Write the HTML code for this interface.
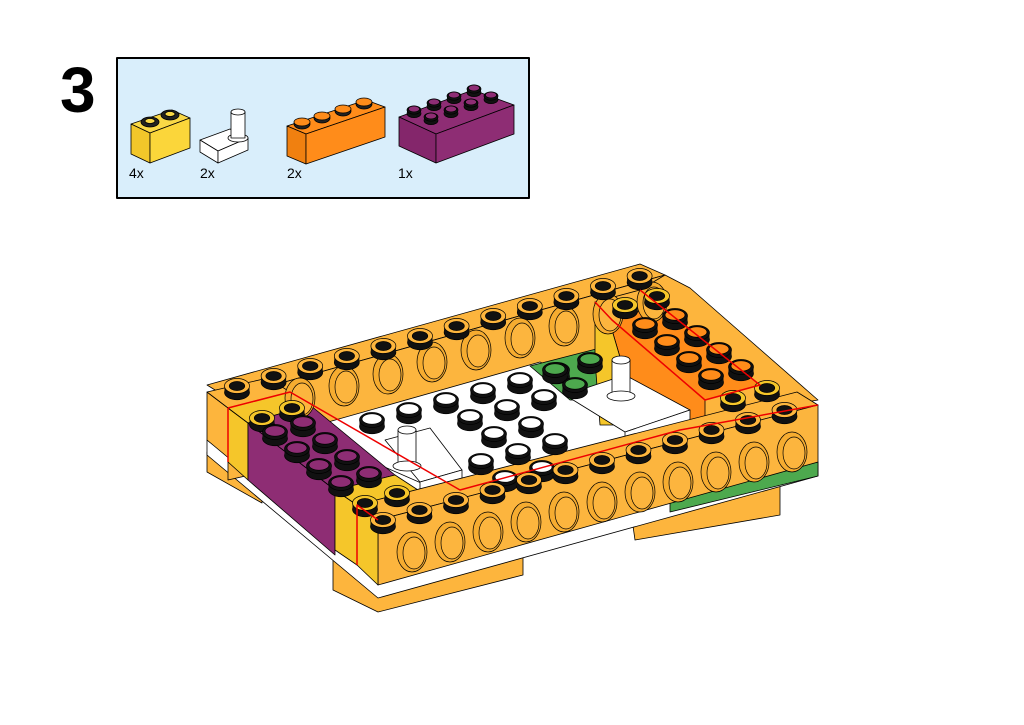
<!DOCTYPE html>
<html><head><meta charset="utf-8"><style>
body{margin:0;background:#fff;width:1024px;height:725px;overflow:hidden}
svg{display:block}
text{font-family:"Liberation Sans",sans-serif}
</style></head><body>
<svg id="s" width="1024" height="725" viewBox="0 0 1024 725" xmlns="http://www.w3.org/2000/svg" stroke-linejoin="round">
<text x="60" y="112" font-size="64" font-weight="bold">3</text>
<rect x="117" y="58" width="412" height="140" fill="#d9eefb" stroke="#000" stroke-width="2"/>
<g stroke="#000" stroke-width="0.8">
<polygon points="131,124 172,110 190,118 150,133" fill="#f9d846"/>
<polygon points="131,124 150,133 150,163 131,154" fill="#f2c72a"/>
<polygon points="150,133 190,118 190,148 150,163" fill="#fbd63a"/>
<ellipse cx="150" cy="122" rx="9" ry="5" fill="#222"/><ellipse cx="150" cy="121" rx="5" ry="2.5" fill="#f9d846"/>
<ellipse cx="170" cy="115" rx="9" ry="5" fill="#222"/><ellipse cx="170" cy="114" rx="5" ry="2.5" fill="#f9d846"/>
<polygon points="200,140 230,129 248,138 218,151" fill="#fff"/>
<polygon points="200,140 218,151 218,163 200,152" fill="#fff"/>
<polygon points="218,151 248,138 248,150 218,163" fill="#fff"/>
<ellipse cx="238" cy="138" rx="10" ry="4" fill="#fff"/><rect x="231" y="112" width="14" height="26" fill="#fff"/><ellipse cx="238" cy="112" rx="7" ry="3" fill="#fff"/>
<polygon points="287,126 366,100 385,107 306,134" fill="#ff8c1a"/>
<polygon points="287,126 306,134 306,164 287,156" fill="#f08010"/>
<polygon points="306,134 385,107 385,137 306,164" fill="#ff8c1a"/>
<ellipse cx="302" cy="124" rx="8" ry="5" fill="#222"/><ellipse cx="322" cy="118" rx="8" ry="5" fill="#222"/><ellipse cx="343" cy="111" rx="8" ry="5" fill="#222"/><ellipse cx="364" cy="104" rx="8" ry="5" fill="#222"/>
<ellipse cx="302" cy="122" rx="8" ry="4" fill="#ff8c1a"/><ellipse cx="322" cy="116" rx="8" ry="4" fill="#ff8c1a"/><ellipse cx="343" cy="109" rx="8" ry="4" fill="#ff8c1a"/><ellipse cx="364" cy="102" rx="8" ry="4" fill="#ff8c1a"/>
<polygon points="399,117 473,90 514,105 436,134" fill="#8e2d74"/>
<polygon points="399,117 436,134 436,163 399,146" fill="#84266b"/>
<polygon points="436,134 514,105 514,134 436,163" fill="#8e2d74"/>
</g>
<g id="pp"></g>
<g fill="#000" font-size="14"><text x="129" y="178">4x</text><text x="200" y="178">2x</text><text x="287" y="178">2x</text><text x="398" y="178">1x</text></g>

<g id="m" stroke="#000" stroke-width="0.8">
<polygon points="207,452 262,490 262,503 207,472" fill="#fdb53d"/>
<polygon points="333,560 523,540 523,575 378,612 333,590" fill="#fdb53d"/>
<polygon points="630,505 780,470 780,515 635,540" fill="#fdb53d"/>
<polygon points="207,440 378,572 670,500 818,462 818,476 378,598 207,455" fill="#fff"/>
<polygon points="670,500 818,462 818,476 670,512" fill="#4da94e"/>
<polygon points="207,385 640,264 665,275 228,398" fill="#fdb53d"/>
<polygon points="228,398 665,275 665,380 228,480" fill="#fcb53e"/>
<polygon points="300,430 540,362 700,440 460,500" fill="#fff"/>
<polygon points="530,366 600,348 620,400 570,400" fill="#4da94e"/>
<polygon points="207,392 357,505 357,565 207,440" fill="#fdb53d"/>
<polygon points="228,408 248,423 248,480 228,462" fill="#f5c62a"/>
<polygon points="248,423 335,490 335,555 248,480" fill="#8e2d74"/>
<polygon points="335,490 357,505 357,565 335,550" fill="#f5c62a"/>
<polygon points="207,392 228,408 290,392 268,378" fill="#fdb53d"/>
<polygon points="228,408 248,423 310,405 290,392" fill="#f5c62a"/>
<polygon points="248,423 335,490 395,475 310,405" fill="#8e2d74"/>
<polygon points="335,490 357,505 418,490 395,475" fill="#f5c62a"/>
<polygon points="385,440 430,428 462,470 420,482" fill="#fff"/>
<polygon points="420,482 462,470 462,487 420,500" fill="#fff"/>
<polygon points="595,302 640,290 665,275 690,288 818,400 760,410 700,420 610,330" fill="#fdb53d"/>
<polygon points="612,320 660,305 760,385 705,400" fill="#ff8c1a"/>
<polygon points="612,320 705,400 705,420 640,425 612,330" fill="#ff8c1a"/>
<polygon points="595,302 612,320 612,330 640,425 600,425 595,360" fill="#f5c62a"/>
<polygon points="565,395 625,375 690,410 625,432" fill="#fff"/>
<polygon points="625,432 690,410 690,430 625,450" fill="#fff"/>
<polygon points="357,505 797,392 818,405 378,520" fill="#fdb53d"/>
<polygon points="378,520 818,405 818,462 378,585" fill="#fcb53e"/>
<polygon points="357,505 378,520 378,585 357,565" fill="#f5c62a"/>
<g fill="#fff"><rect x="398" y="430" width="18" height="36"/><ellipse cx="407" cy="466" rx="14" ry="5"/><ellipse cx="407" cy="430" rx="9" ry="4"/>
<rect x="612" y="360" width="18" height="36"/><ellipse cx="621" cy="396" rx="14" ry="5"/><ellipse cx="621" cy="360" rx="9" ry="4"/></g>
</g>
<g id="st"></g>
<g fill="none" stroke="#e00" stroke-width="1.5">
<polyline points="228,408 228,462"/><polyline points="357,565 357,505 378,520"/>
<polyline points="228,408 290,392 460,490 680,430 818,405"/>
<polyline points="595,302 612,320 705,400 760,385 640,290"/>
</g>
</svg>
<script>
var N='http://www.w3.org/2000/svg',g,i,j;
function el(t,a){var e=document.createElementNS(N,t);for(var k in a)e.setAttribute(k,a[k]);if(!a.stroke)e.setAttribute('stroke','#000');e.setAttribute('stroke-width','0.7');g.appendChild(e);return e;}
function stud(x,y,c,hollow,r){r=r||12.5;var ry=r*0.6,h=r*0.5;el('ellipse',{cx:x,cy:y+h,rx:r,ry:ry,fill:'#111'});el('rect',{x:x-r,y:y,width:2*r,height:h,fill:'#111',stroke:'none'});
el('ellipse',{cx:x,cy:y,rx:r,ry:ry,fill:hollow?c:'#111'});if(hollow)el('ellipse',{cx:x,cy:y,rx:r*0.62,ry:ry*0.6,fill:'#111'});else el('ellipse',{cx:x,cy:y-1,rx:r*0.8,ry:ry*0.7,fill:c});}
function hole(x,y){el('ellipse',{cx:x,cy:y,rx:15,ry:20,fill:'#f6ac30'});el('ellipse',{cx:x+2,cy:y+1,rx:11,ry:16,fill:'#fcb53e'});}
g=document.getElementById('pp');
for(i=0;i<4;i++)for(j=0;j<2;j++)stud(414+i*20+j*17,110-i*7+j*7,'#8e2d74',false,7);
g=document.getElementById('st');
for(i=0;i<9;i++)hole(300+i*44,398-i*12);
for(i=0;i<11;i++)hole(412+i*38,552-i*10);
for(i=0;i<6;i++)for(j=0;j<5;j++){var x=372+i*37+j*24,y=420-i*10+j*17;if(x<565&&!(x>380&&x<470&&y>425))stud(x,y,'#fff',false);}
stud(555,370,'#4da94e',false);stud(590,360,'#4da94e',false);stud(575,385,'#4da94e',false);
for(i=0;i<12;i++)stud(237+i*36.6,386-i*10,'#fdb53d',true);
stud(262,418,'#f5c62a',true);stud(292,408,'#f5c62a',true);
for(i=0;i<4;i++)for(j=0;j<2;j++)stud(275+i*22+j*28,432+i*17-j*9,'#8e2d74',false);
stud(625,305,'#f5c62a',true);stud(657,296,'#f5c62a',true);
for(i=0;i<4;i++)for(j=0;j<2;j++)stud(645+i*22+j*30,325+i*17-j*9,'#ff8c1a',false);
stud(733,398,'#f5c62a',true);stud(767,388,'#f5c62a',true);
stud(365,503,'#f5c62a',true);stud(397,493,'#f5c62a',true);
for(i=0;i<12;i++)stud(383+i*36.5,520-i*10,'#fdb53d',true);
</script>
</body></html>
